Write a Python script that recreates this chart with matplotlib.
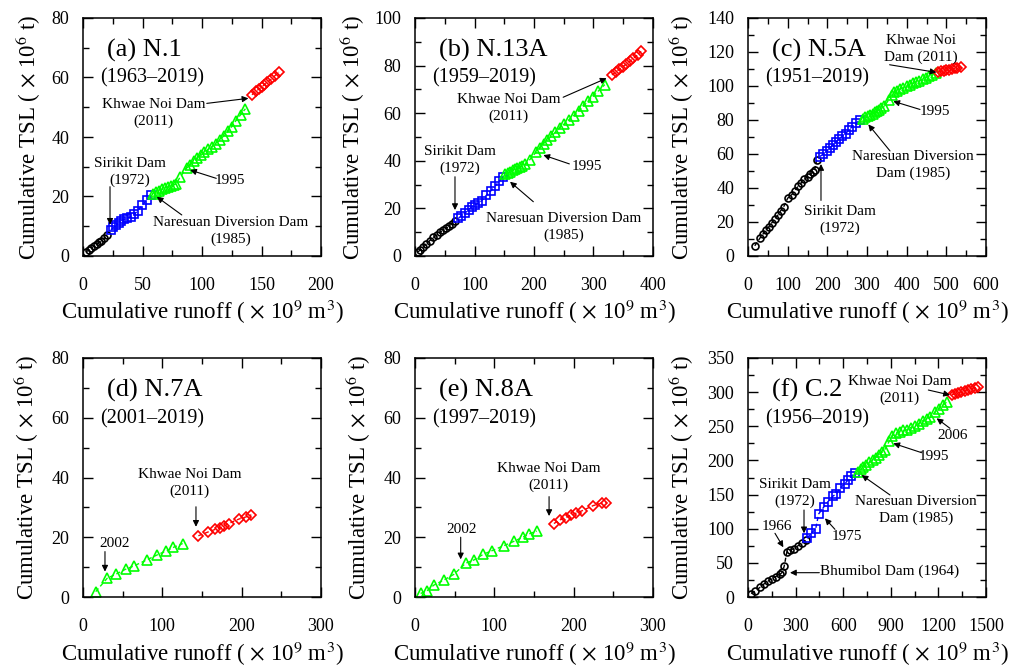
import matplotlib
matplotlib.use("Agg")
import matplotlib.pyplot as plt
from matplotlib.ticker import MultipleLocator

plt.rcParams['font.family'] = ['Liberation Serif', 'DejaVu Serif']
plt.rcParams['mathtext.fontset'] = 'stix'

# ---------------- data (cumulative runoff x1e9 m3, cumulative TSL x1e6 t) ----------------
# (a) N.1  1963-2019
a_pre_x = [2.5, 5, 7, 9.5, 11.5, 13.5, 15.5, 18, 20]
a_pre_y = [1.4, 2.0, 2.8, 3.3, 4.0, 4.6, 5.2, 6.0, 7.0]
a_sir_x = [23.5, 25.5, 28, 30, 32, 34.5, 37, 40, 43, 46, 49.5, 53.5, 57]
a_sir_y = [8.7, 9.6, 10.4, 11.2, 11.8, 12.3, 12.7, 13.1, 14.0, 15.2, 17.0, 18.8, 20.5]
a_nar_x = [59, 61.5, 64, 66.5, 69, 71.5, 74, 76.5, 78.5, 81.5, 87, 90, 93, 96, 99, 102,
           105, 108.5, 112, 115, 118.5, 122, 125, 128.5, 132.5, 136.5]
a_nar_y = [21.0, 21.6, 22.0, 22.4, 22.8, 23.1, 23.5, 23.9, 24.3, 26.5, 29.5, 30.6, 31.8, 32.8,
           33.8, 34.8, 35.8, 36.8, 37.8, 39.0, 40.5, 42.0, 43.5, 45.5, 47.5, 49.5]
a_khw_x = [142, 145, 147.5, 150, 152.5, 155, 158, 161, 164.5]
a_khw_y = [54.2, 55.3, 56.0, 56.8, 57.6, 58.4, 59.4, 60.5, 61.8]

# (b) N.13A  1959-2019
b_pre_x = [5, 9, 14, 19, 25, 31, 37, 42, 47, 52, 57, 62, 67]
b_pre_y = [1.8, 2.5, 3.7, 5.0, 6.5, 7.8, 9.0, 10.0, 10.8, 11.6, 12.5, 13.5, 14.8]
b_sir_x = [73, 78, 84, 90, 95, 100, 106, 112, 120, 128, 135, 142, 148]
b_sir_y = [15.8, 17.0, 18.0, 19.5, 20.6, 21.3, 22.2, 23.2, 25.5, 27.5, 29.5, 31.5, 33.3]
b_nar_x = [152, 156, 160, 164, 168, 172, 176, 180, 185, 193, 204, 210, 216, 222, 229, 236,
           243, 251, 259, 267, 275, 283, 291, 299, 308, 319]
b_nar_y = [34.5, 35.0, 35.5, 36.0, 36.5, 37.0, 37.5, 38.0, 38.5, 40.5, 43.8, 45.5, 47.2, 48.6,
           50.3, 52.0, 53.8, 55.5, 57.3, 59.0, 61.0, 63.0, 65.0, 67.0, 69.3, 72.0]
b_khw_x = [331, 337, 343, 349, 355, 361, 367, 374, 380]
b_khw_y = [76.1, 77.2, 78.4, 79.5, 80.6, 81.8, 83.0, 84.5, 86.0]

# (c) N.5A  1951-2019
c_pre_x = [17, 30, 38, 45, 52, 60, 68, 75, 82, 90, 100, 110, 118, 126, 134, 142, 150, 157,
           163, 168, 173]
c_pre_y = [6, 10.5, 13, 15, 17, 19.5, 22, 24, 26.5, 29, 34, 36, 38.5, 41, 43, 45, 46.5, 48,
           49.5, 50.5, 56.5]
c_sir_x = [181, 190, 198, 206, 214, 222, 230, 238, 246, 254, 262, 272, 282]
c_sir_y = [58.5, 60, 61.5, 63.5, 65.5, 67, 69, 70.5, 72, 74, 76, 78, 80]
c_nar_x = [290, 296, 302, 308, 314, 320, 326, 331, 336, 344, 355, 362, 369, 376, 384, 392,
           400, 408, 416, 424, 432, 440, 448, 456, 464, 474]
c_nar_y = [80.5, 81.5, 82.3, 83.0, 83.8, 84.5, 85.3, 86.0, 86.8, 88.0, 92.0, 95.0, 96.3, 97.3,
           98.2, 99.0, 99.8, 100.6, 101.5, 102.3, 103.2, 104.0, 104.9, 105.8, 106.7, 107.8]
c_khw_x = [478, 486, 493, 500, 507, 514, 521, 528, 536]
c_khw_y = [108.2, 108.6, 109.0, 109.3, 109.6, 110.0, 110.4, 110.8, 111.2]

# (d) N.7A  2001-2019
d_nar_x = [16.0, 30.6, 41.2, 53.7, 64.2, 80.2, 93.6, 104.6, 113.8, 125.6]
d_nar_y = [1.8, 6.3, 7.6, 9.3, 10.4, 12.4, 14.1, 15.4, 16.6, 17.9]
d_khw_x = [145.4, 158, 166.4, 172.7, 177.7, 183.6, 196.6, 205.4, 212.2]
d_khw_y = [20.5, 21.8, 22.6, 23.2, 23.7, 24.6, 26.1, 26.8, 27.5]

# (e) N.8A  1997-2019
e_nar_x = [7.1, 14.7, 23.9, 36.5, 49.1, 63.8, 74.3, 86.1, 97, 112.2, 125.2, 135.7, 143.7, 153.4]
e_nar_y = [1.2, 2.0, 4.0, 5.7, 7.6, 11.3, 12.4, 14.3, 15.5, 17.2, 18.7, 20.0, 21.1, 22.1]
e_khw_x = [175.1, 182.7, 190.2, 196.1, 202.4, 210, 224.7, 235.2, 240.6]
e_khw_y = [24.6, 25.8, 26.6, 27.4, 28.0, 28.8, 30.6, 31.4, 31.6]

# (f) C.2  1956-2019
f_pre_x = [20, 45, 75, 100, 125, 150, 175, 200, 215, 228, 245, 265, 290, 315, 340, 365]
f_pre_y = [5, 9, 14, 19, 23, 27, 30, 33, 36, 45, 66, 68.5, 71, 75, 79, 83]
f_sir_x = [374, 395, 426, 445, 479, 504, 536, 557, 578, 609, 630, 651, 672]
f_sir_y = [85.9, 93.2, 99.1, 121.5, 132.2, 139.6, 147.9, 150.8, 159.1, 165.4, 171.3, 177.1, 181.1]
f_nar_x = [695, 710, 725, 745, 765, 785, 805, 825, 845, 862, 890, 910, 930, 955, 980, 1000,
           1025, 1050, 1075, 1100, 1125, 1150, 1180, 1205, 1230, 1255]
f_nar_y = [183, 187, 190, 193, 197, 200, 204, 208, 212, 216, 228, 236, 240, 242, 244, 245,
           248, 251, 254, 258, 261, 263, 271, 276, 281, 286]
f_khw_x = [1285, 1305, 1325, 1345, 1365, 1385, 1405, 1428, 1450]
f_khw_y = [296, 297.5, 299, 300.5, 302, 303.5, 305, 306.5, 308]

# ---------------- drawing ----------------
styles = {
    'pre': dict(color='black', marker='o', ms=5),
    'sir': dict(color='blue', marker='s', ms=5.5),
    'nar': dict(color='#00ff00', marker='^', ms=6.5),
    'khw': dict(color='red', marker='D', ms=4.8),
}

fig = plt.figure(figsize=(10.19, 6.70), dpi=100)
W, H = 1019, 670


def make_ax(left, top, w=238, h=238):
    return fig.add_axes([left / W, (H - top - h) / H, w / W, h / H])


def draw(ax, series, xlim, ylim, xmaj, ymaj, title, years, ylab_x, xlab_y):
    for key, xs, ys in series:
        st = styles[key]
        ax.plot(xs, ys, linestyle=(0, (3, 2)), lw=1, color=st['color'],
                marker=st['marker'], ms=st['ms'], mfc='none', mec=st['color'], mew=1.2)
    ax.set_xlim(*xlim)
    ax.set_ylim(*ylim)
    ax.xaxis.set_major_locator(MultipleLocator(xmaj))
    ax.xaxis.set_minor_locator(MultipleLocator(xmaj / 2))
    ax.yaxis.set_major_locator(MultipleLocator(ymaj))
    ax.yaxis.set_minor_locator(MultipleLocator(ymaj / 2))
    ax.tick_params(which='both', direction='in', top=True, right=True, width=1)
    ax.tick_params(which='major', length=7, labelsize=13)
    ax.tick_params(which='minor', length=4.5)
    ax.tick_params(axis='x', which='major', pad=15)
    ax.tick_params(axis='y', which='major', pad=10)
    for s in ax.spines.values():
        s.set_linewidth(1.1)
    ax.text(0.10, 0.865, title, transform=ax.transAxes, fontsize=19, ha='left', va='center')
    ax.text(0.072, 0.747, years, transform=ax.transAxes, fontsize=14.5, ha='left', va='center')
    ax.text(ylab_x, 0.5, r'Cumulative TSL ( $\times$ 10$^6$ t)', transform=ax.transAxes,
            rotation=90, fontsize=16.5, ha='center', va='center')
    ax.text(0.5, xlab_y, r'Cumulative runoff ( $\times$ 10$^9$ m$^3$)', transform=ax.transAxes,
            fontsize=16.5, ha='center', va='center')


def note(ax, x, y, s):
    ax.text(x, y, s, fontsize=11, ha='center', va='center', linespacing=1.35)


def arrow(ax, tail, head):
    ax.annotate('', xy=head, xytext=tail,
                arrowprops=dict(arrowstyle='-|>', lw=0.8, color='black',
                                mutation_scale=9, shrinkA=0, shrinkB=0))


# (a)
ax = make_ax(83, 18)
draw(ax, [('pre', a_pre_x, a_pre_y), ('sir', a_sir_x, a_sir_y),
          ('nar', a_nar_x, a_nar_y), ('khw', a_khw_x, a_khw_y)],
     (0, 200), (0, 80), 50, 20, '(a) N.1', '(1963\u20132019)', -0.231, -0.235)
note(ax, 59.5, 48, 'Khwae Noi Dam\n(2011)')
arrow(ax, (104, 51.3), (139, 53))
note(ax, 39.5, 28.3, 'Sirikit Dam\n(1972)')
arrow(ax, (22.7, 23.3), (22.7, 10.5))
note(ax, 123.5, 25.5, '1995')
arrow(ax, (112, 26.1), (90, 28.9))
note(ax, 124, 8.3, 'Naresuan Diversion Dam\n(1985)')
arrow(ax, (83, 13.8), (62, 19.9))

# (b)
ax = make_ax(415, 18)
draw(ax, [('pre', b_pre_x, b_pre_y), ('sir', b_sir_x, b_sir_y),
          ('nar', b_nar_x, b_nar_y), ('khw', b_khw_x, b_khw_y)],
     (0, 400), (0, 100), 100, 20, '(b) N.13A', '(1959\u20132019)', -0.265, -0.235)
note(ax, 157, 62.1, 'Khwae Noi Dam\n(2011)')
arrow(ax, (249, 66.7), (322, 74.7))
note(ax, 75.6, 40.3, 'Sirikit Dam\n(1972)')
arrow(ax, (67.2, 33.3), (67.2, 19.3))
note(ax, 288.6, 37.5, '1995')
arrow(ax, (259.4, 38.7), (215.7, 42.4))
note(ax, 249.3, 12.3, 'Naresuan Diversion Dam\n(1985)')
arrow(ax, (198.9, 22.8), (159.7, 31.2))

# (c)
ax = make_ax(748, 18)
draw(ax, [('pre', c_pre_x, c_pre_y), ('sir', c_sir_x, c_sir_y),
          ('nar', c_nar_x, c_nar_y), ('khw', c_khw_x, c_khw_y)],
     (0, 600), (0, 140), 100, 20, '(c) N.5A', '(1951\u20132019)', -0.279, -0.235)
note(ax, 435.5, 121.5, 'Khwae Noi\nDam (2011)')
arrow(ax, (357, 112.5), (475, 108))
note(ax, 471.4, 85.2, '1995')
arrow(ax, (433.6, 86.2), (366.3, 91))
note(ax, 415.5, 53.4, 'Naresuan Diversion\nDam (1985)')
arrow(ax, (358, 61.8), (303.3, 77.4))
note(ax, 231.9, 21.4, 'Sirikit Dam\n(1972)')
arrow(ax, (184, 32.7), (184, 54.1))

# (d)
ax = make_ax(83, 358, h=239)
draw(ax, [('nar', d_nar_x, d_nar_y), ('khw', d_khw_x, d_khw_y)],
     (0, 300), (0, 80), 100, 20, '(d) N.7A', '(2001\u20132019)', -0.237, -0.24)
note(ax, 134, 38.2, 'Khwae Noi Dam\n(2011)')
arrow(ax, (142.4, 30.2), (142.4, 23.5))
note(ax, 40.3, 18, '2002')
arrow(ax, (27.7, 15.2), (27.7, 8.5))

# (e)
ax = make_ax(415, 358, h=239)
draw(ax, [('nar', e_nar_x, e_nar_y), ('khw', e_khw_x, e_khw_y)],
     (0, 300), (0, 80), 100, 20, '(e) N.8A', '(1997\u20132019)', -0.238, -0.24)
note(ax, 168.5, 40.3, 'Khwae Noi Dam\n(2011)')
arrow(ax, (169, 33.6), (169, 27.1))
note(ax, 58.8, 22.6, '2002')
arrow(ax, (57.6, 20), (57.6, 12.6))

# (f)
ax = make_ax(748, 358, h=239)
draw(ax, [('pre', f_pre_x, f_pre_y), ('sir', f_sir_x, f_sir_y),
          ('nar', f_nar_x, f_nar_y), ('khw', f_khw_x, f_khw_y)],
     (0, 1500), (0, 350), 300, 50, '(f) C.2', '(1956\u20132019)', -0.279, -0.24)
note(ax, 955, 303.6, 'Khwae Noi Dam\n(2011)')
arrow(ax, (1136.5, 303.1), (1273, 295.8))
note(ax, 1290, 235.8, '2006')
arrow(ax, (1273, 247), (1189, 261.7))
note(ax, 1172, 205.5, '1995')
arrow(ax, (1094.6, 211.3), (915.8, 225))
note(ax, 1058, 128, 'Naresuan Diversion\nDam (1985)')
arrow(ax, (895, 149.4), (716.5, 178.6))
note(ax, 296, 152, 'Sirikit Dam\n(1972)')
arrow(ax, (353, 127.4), (353, 93.3))
note(ax, 181, 103, '1966')
arrow(ax, (170, 93.3), (222.8, 72.8))
note(ax, 622, 89.3, '1975')
arrow(ax, (548, 99.1), (485, 115.2))
note(ax, 895, 38, 'Bhumibol Dam (1964)')
arrow(ax, (449.5, 35.6), (264.7, 35.6))

fig.savefig('out.png', dpi=100)
